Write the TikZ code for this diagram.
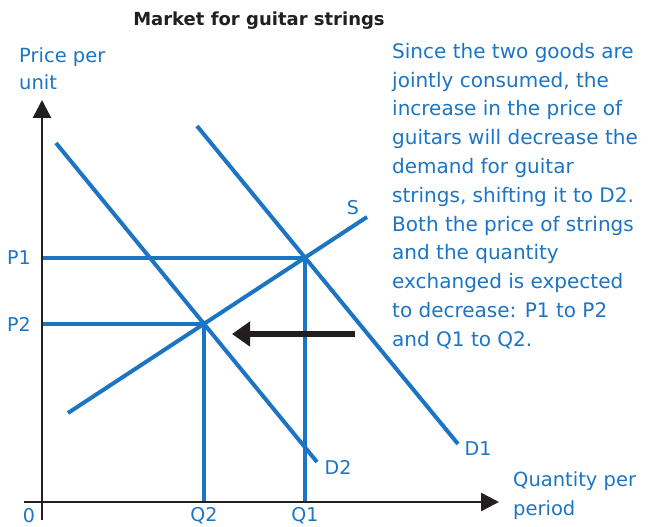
\documentclass[tikz,border=0pt]{standalone}
\usepackage{fontspec}
\usetikzlibrary{arrows.meta}
\newfontfamily\handfont{DejaVu Sans}
\newfontfamily\titlefont{DejaVu Sans}
\definecolor{curveblue}{RGB}{28,117,196}
\definecolor{axisblack}{RGB}{35,31,32}
\tikzset{
  curve/.style={curveblue, line width=4pt},
  axisline/.style={axisblack, line width=2.6pt, -{Triangle[length=18pt,width=18pt]}},
  hand/.style={text=curveblue, inner sep=0pt, font=\handfont\fontsize{20}{28.8}\selectfont},
  tick/.style={text=curveblue, inner sep=0pt, font=\handfont\fontsize{19}{20}\selectfont},
}

\begin{document}
\begin{tikzpicture}[x=1pt,y=-1pt]
  \useasboundingbox (0,0) rectangle (654,527);
  \coordinate (origin) at (42,502);
  \coordinate (ybot) at (42,520);
  \coordinate (ytop) at (42,100);
  \coordinate (xleft) at (24,502);
  \coordinate (xright) at (499,502);
  \coordinate (s0) at (68,413);
  \coordinate (s1) at (367,217);
  \coordinate (da0) at (197,126);
  \coordinate (da1) at (458,444);
  \coordinate (db0) at (56,143);
  \coordinate (db1) at (317,462);
  \coordinate (eqa) at (305,257.5);
  \coordinate (eqb) at (203.5,323.5);
  \coordinate (shiftfrom) at (355,334);
  \coordinate (shiftto) at (232,334);

  \node[font=\titlefont\bfseries\fontsize{18}{20}\selectfont, text=axisblack, inner sep=0pt] (title) at (259,21) {Market for guitar strings};

  % curves
  \draw[curve] (eqa -| origin) -- (eqa) -- (eqa |- origin);
  \draw[curve] (eqb -| origin) -- (eqb) -- (eqb |- origin);
  \draw[curve] (s0) -- (s1);
  \draw[curve] (da0) -- (da1);
  \draw[curve] (db0) -- (db1);

  % axes
  \draw[axisline] (ybot) -- (ytop);
  \draw[axisline] (xleft) -- (xright);
  \draw[axisblack, line width=5.5pt, -{Triangle[length=18pt,width=24pt]}] (shiftfrom) -- (shiftto);

  \node[hand, anchor=north west, align=left, font=\handfont\fontsize{19.5}{27}\selectfont] (ylabel) at (19,47) {Price per\\unit};
  \node[hand, anchor=north west, align=left, font=\handfont\fontsize{19.5}{29}\selectfont] (xlabel) at (513,471) {Quantity per\\period};
  \node[tick] (p1) at (19,258) {P1};
  \node[tick] (p2) at (19,324) {P2};
  \node[tick] (zero) at (29,516) {0};
  \node[tick] (q2) at (204,516) {Q2};
  \node[tick] (q1) at (305,516) {Q1};
  \node[tick] (d2) at (338,467) {D2};
  \node[tick] (d1) at (478,449) {D1};
  \node[tick] (slabel) at (353,208) {S};

  \node[hand, anchor=north west, align=left] (note) at (392,43) {Since the two goods are\\
    jointly consumed, the\\
    increase in the price of\\
    guitars will decrease the\\
    demand for guitar\\
    strings, shifting it to D2.\\
    Both the price of strings\\
    and the quantity\\
    exchanged is expected\\
    to decrease: P1 to P2\\
    and Q1 to Q2.};
\end{tikzpicture}
\end{document}
